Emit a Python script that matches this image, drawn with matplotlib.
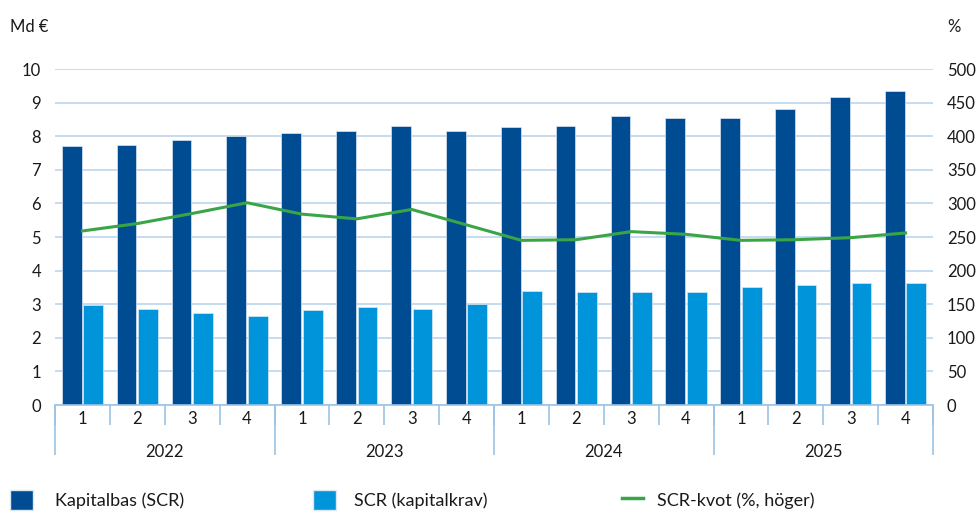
"""Kapitalbas, SCR and SCR-kvot per quarter 2022-2025."""

import matplotlib.pyplot as plt
import numpy as np
from matplotlib.lines import Line2D
from matplotlib.patches import Patch

plt.rcParams["font.family"] = ["Lato", "DejaVu Sans"]

years = ["2022", "2023", "2024", "2025"]
quarters = ["1", "2", "3", "4"]

kapitalbas = [7.71, 7.74, 7.89, 8.0, 8.1, 8.15, 8.3, 8.15,
              8.28, 8.3, 8.61, 8.53, 8.53, 8.81, 9.18, 9.35]
scr = [2.99, 2.86, 2.75, 2.65, 2.84, 2.93, 2.85, 3.0,
       3.38, 3.35, 3.35, 3.35, 3.5, 3.56, 3.64, 3.64]
scr_kvot = [259, 270, 285, 301, 284, 277, 291, 268,
            245, 246, 258, 254, 245, 246, 249, 256]

DARK = "#004c93"
LIGHT = "#0095da"
GREEN = "#3aa548"
GRID = "#c2d9ee"
AXIS = "#9cc3e5"
TEXT = "#1a1a1a"

fig = plt.figure(figsize=(9.77, 5.13), dpi=100)
ax = fig.add_axes([55 / 977, 1 - 405 / 513, (933 - 55) / 977, (405 - 69) / 513])
ax2 = ax.twinx()

x = np.arange(len(kapitalbas))
w = 0.36
ax.bar(x - 0.195, kapitalbas, w, color=DARK, edgecolor="#dbe7f3", linewidth=0.5, zorder=2)
ax.bar(x + 0.195, scr, w, color=LIGHT, edgecolor="#dbe7f3", linewidth=0.5, zorder=2)
ax2.plot(x, scr_kvot, color=GREEN, linewidth=2.2, zorder=3)

ax.set_xlim(-0.5, len(x) - 0.5)
ax.set_ylim(0, 10)
ax2.set_ylim(0, 500)
ax.set_yticks(np.arange(0, 11, 1))
ax2.set_yticks(np.arange(0, 501, 50))
ax.grid(axis="y", color=GRID, linewidth=1.3, zorder=0)
ax.set_axisbelow(True)

for a in (ax, ax2):
    for s in ("top", "left", "right", "bottom"):
        a.spines[s].set_visible(False)
ax.spines["bottom"].set_visible(True)
ax.spines["bottom"].set_color(AXIS)
ax.spines["bottom"].set_linewidth(1.2)

ax.tick_params(axis="y", length=0, pad=10, labelsize=12, labelcolor=TEXT)
ax2.tick_params(axis="y", length=0, pad=10, labelsize=12, labelcolor=TEXT)

# quarter labels and separators
ax.set_xticks(x, labels=quarters * len(years))
ax.set_xticks(np.arange(-0.5, len(x)), minor=True)
ax.tick_params(axis="x", which="major", length=0, pad=4, labelsize=12, labelcolor=TEXT)
ax.tick_params(axis="x", which="minor", length=14.5, width=1.2, color=AXIS)

# year labels and long separators
sec = ax.secondary_xaxis(0)
sec.spines["bottom"].set_visible(False)
sec.set_xticks(np.arange(-0.5, len(x), 4), labels=[""] * (len(years) + 1))
sec.set_xticks(np.arange(1.5, len(x), 4), labels=years, minor=True)
sec.tick_params(axis="x", which="major", length=36, width=1.2, color=AXIS)
sec.tick_params(axis="x", which="minor", length=0, pad=28, labelsize=12, labelcolor=TEXT)

fig.text(10 / 977, 1 - 27 / 513, "Md €", fontsize=12, color=TEXT, va="center")
fig.text(947 / 977, 1 - 27 / 513, "%", fontsize=12, color=TEXT, va="center")

legend_items = [
    (Patch(facecolor=DARK, edgecolor="#dbe7f3"), "Kapitalbas (SCR)", 10 / 977, 1.25, 1.25),
    (Patch(facecolor=LIGHT, edgecolor="#dbe7f3"), "SCR (kapitalkrav)", 313 / 977, 1.25, 1.0),
    (Line2D([0], [0], color=GREEN, linewidth=2.5), "SCR-kvot (%, höger)", 622 / 977, 1.15, 0.8),
]
for handle, label, lx, hl, pad in legend_items:
    fig.legend([handle], [label], loc="center left", bbox_to_anchor=(lx, 1 - 500 / 513),
               frameon=False, fontsize=13, handlelength=hl, handleheight=1.25,
               handletextpad=pad, borderpad=0, borderaxespad=0, labelcolor=TEXT)

fig.savefig("out.png", dpi=100)
